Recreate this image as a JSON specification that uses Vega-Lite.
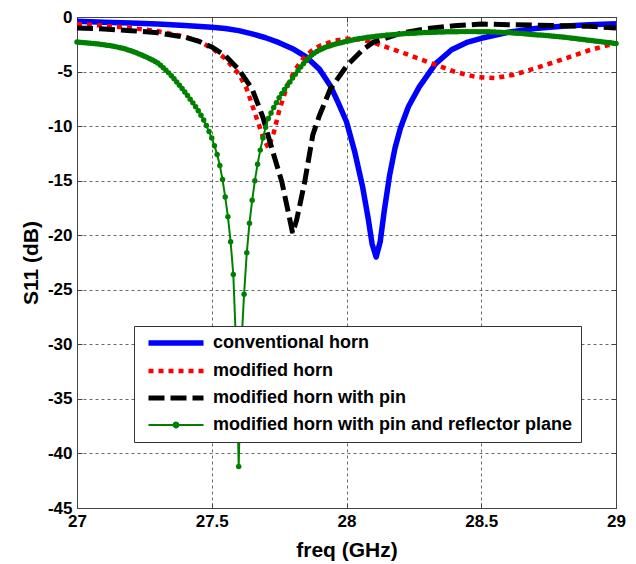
{
  "$schema": "https://vega.github.io/schema/vega-lite/v6.json",
  "width": 539,
  "height": 491,
  "autosize": {"type": "none"},
  "padding": {"left": 77, "top": 17, "right": 20, "bottom": 56},
  "background": "white",
  "config": {"view": {"stroke": "#444", "strokeWidth": 1}, "font": "Liberation Sans"},
  "datasets": {
    "conv": [
      {"series": "conventional horn", "freq": 27.0, "s11": -0.40}, {"series": "conventional horn", "freq": 27.1, "s11": -0.48}, {"series": "conventional horn", "freq": 27.2, "s11": -0.56}, {"series": "conventional horn", "freq": 27.3, "s11": -0.65},
      {"series": "conventional horn", "freq": 27.4, "s11": -0.78}, {"series": "conventional horn", "freq": 27.5, "s11": -0.95}, {"series": "conventional horn", "freq": 27.55, "s11": -1.05}, {"series": "conventional horn", "freq": 27.6, "s11": -1.25},
      {"series": "conventional horn", "freq": 27.65, "s11": -1.55}, {"series": "conventional horn", "freq": 27.7, "s11": -1.9}, {"series": "conventional horn", "freq": 27.75, "s11": -2.35}, {"series": "conventional horn", "freq": 27.8, "s11": -2.9},
      {"series": "conventional horn", "freq": 27.85, "s11": -3.65}, {"series": "conventional horn", "freq": 27.9, "s11": -4.8}, {"series": "conventional horn", "freq": 27.94, "s11": -6.3}, {"series": "conventional horn", "freq": 27.97, "s11": -7.9},
      {"series": "conventional horn", "freq": 28.0, "s11": -9.6}, {"series": "conventional horn", "freq": 28.03, "s11": -12.3}, {"series": "conventional horn", "freq": 28.06, "s11": -15.6}, {"series": "conventional horn", "freq": 28.08, "s11": -18.4},
      {"series": "conventional horn", "freq": 28.095, "s11": -20.8}, {"series": "conventional horn", "freq": 28.11, "s11": -22.0}, {"series": "conventional horn", "freq": 28.125, "s11": -20.6}, {"series": "conventional horn", "freq": 28.14, "s11": -17.8},
      {"series": "conventional horn", "freq": 28.16, "s11": -14.5}, {"series": "conventional horn", "freq": 28.18, "s11": -12.0}, {"series": "conventional horn", "freq": 28.2, "s11": -10.2}, {"series": "conventional horn", "freq": 28.23, "s11": -8.2},
      {"series": "conventional horn", "freq": 28.27, "s11": -6.4}, {"series": "conventional horn", "freq": 28.33, "s11": -4.3}, {"series": "conventional horn", "freq": 28.39, "s11": -3.0}, {"series": "conventional horn", "freq": 28.45, "s11": -2.3},
      {"series": "conventional horn", "freq": 28.5, "s11": -1.95}, {"series": "conventional horn", "freq": 28.6, "s11": -1.4}, {"series": "conventional horn", "freq": 28.7, "s11": -1.05}, {"series": "conventional horn", "freq": 28.8, "s11": -0.85},
      {"series": "conventional horn", "freq": 28.9, "s11": -0.72}, {"series": "conventional horn", "freq": 29.0, "s11": -0.62}
    ],
    "mod": [
      {"series": "modified horn", "freq": 27.0, "s11": -0.65}, {"series": "modified horn", "freq": 27.1, "s11": -0.8}, {"series": "modified horn", "freq": 27.2, "s11": -1.0}, {"series": "modified horn", "freq": 27.3, "s11": -1.3},
      {"series": "modified horn", "freq": 27.4, "s11": -1.8}, {"series": "modified horn", "freq": 27.45, "s11": -2.2}, {"series": "modified horn", "freq": 27.5, "s11": -2.85}, {"series": "modified horn", "freq": 27.55, "s11": -3.8},
      {"series": "modified horn", "freq": 27.6, "s11": -5.2}, {"series": "modified horn", "freq": 27.63, "s11": -6.6}, {"series": "modified horn", "freq": 27.66, "s11": -8.8}, {"series": "modified horn", "freq": 27.69, "s11": -11.0},
      {"series": "modified horn", "freq": 27.71, "s11": -12.0}, {"series": "modified horn", "freq": 27.73, "s11": -10.6}, {"series": "modified horn", "freq": 27.75, "s11": -8.6}, {"series": "modified horn", "freq": 27.78, "s11": -6.3},
      {"series": "modified horn", "freq": 27.81, "s11": -4.8}, {"series": "modified horn", "freq": 27.84, "s11": -3.8}, {"series": "modified horn", "freq": 27.87, "s11": -3.1}, {"series": "modified horn", "freq": 27.9, "s11": -2.65},
      {"series": "modified horn", "freq": 27.95, "s11": -2.2}, {"series": "modified horn", "freq": 28.0, "s11": -2.0}, {"series": "modified horn", "freq": 28.05, "s11": -2.05}, {"series": "modified horn", "freq": 28.1, "s11": -2.35},
      {"series": "modified horn", "freq": 28.2, "s11": -3.2}, {"series": "modified horn", "freq": 28.3, "s11": -4.1}, {"series": "modified horn", "freq": 28.4, "s11": -5.0}, {"series": "modified horn", "freq": 28.48, "s11": -5.5},
      {"series": "modified horn", "freq": 28.55, "s11": -5.6}, {"series": "modified horn", "freq": 28.62, "s11": -5.3}, {"series": "modified horn", "freq": 28.7, "s11": -4.7}, {"series": "modified horn", "freq": 28.8, "s11": -3.9},
      {"series": "modified horn", "freq": 28.9, "s11": -3.05}, {"series": "modified horn", "freq": 29.0, "s11": -2.4}
    ],
    "pin": [
      {"series": "modified horn with pin", "freq": 27.0, "s11": -1.0}, {"series": "modified horn with pin", "freq": 27.1, "s11": -1.1}, {"series": "modified horn with pin", "freq": 27.2, "s11": -1.25}, {"series": "modified horn with pin", "freq": 27.3, "s11": -1.45},
      {"series": "modified horn with pin", "freq": 27.4, "s11": -1.85}, {"series": "modified horn with pin", "freq": 27.45, "s11": -2.2}, {"series": "modified horn with pin", "freq": 27.5, "s11": -2.75}, {"series": "modified horn with pin", "freq": 27.55, "s11": -3.55},
      {"series": "modified horn with pin", "freq": 27.6, "s11": -4.8}, {"series": "modified horn with pin", "freq": 27.65, "s11": -6.6}, {"series": "modified horn with pin", "freq": 27.69, "s11": -9.2}, {"series": "modified horn with pin", "freq": 27.72, "s11": -11.8},
      {"series": "modified horn with pin", "freq": 27.76, "s11": -15.1}, {"series": "modified horn with pin", "freq": 27.79, "s11": -18.6}, {"series": "modified horn with pin", "freq": 27.8, "s11": -19.8}, {"series": "modified horn with pin", "freq": 27.815, "s11": -18.6},
      {"series": "modified horn with pin", "freq": 27.845, "s11": -15.1}, {"series": "modified horn with pin", "freq": 27.875, "s11": -10.8}, {"series": "modified horn with pin", "freq": 27.9, "s11": -9.0}, {"series": "modified horn with pin", "freq": 27.94, "s11": -6.6},
      {"series": "modified horn with pin", "freq": 28.0, "s11": -4.5}, {"series": "modified horn with pin", "freq": 28.06, "s11": -3.0}, {"series": "modified horn with pin", "freq": 28.1, "s11": -2.3}, {"series": "modified horn with pin", "freq": 28.2, "s11": -1.5},
      {"series": "modified horn with pin", "freq": 28.3, "s11": -1.05}, {"series": "modified horn with pin", "freq": 28.4, "s11": -0.8}, {"series": "modified horn with pin", "freq": 28.5, "s11": -0.65}, {"series": "modified horn with pin", "freq": 28.6, "s11": -0.7},
      {"series": "modified horn with pin", "freq": 28.7, "s11": -0.75}, {"series": "modified horn with pin", "freq": 28.8, "s11": -0.8}, {"series": "modified horn with pin", "freq": 28.9, "s11": -0.85}, {"series": "modified horn with pin", "freq": 29.0, "s11": -1.0}
    ],
    "refl": [
      {"freq": 27.00, "s11": -2.30}, {"freq": 27.01, "s11": -2.32}, {"freq": 27.02, "s11": -2.34}, {"freq": 27.03, "s11": -2.36},
      {"freq": 27.04, "s11": -2.38}, {"freq": 27.05, "s11": -2.40}, {"freq": 27.06, "s11": -2.42}, {"freq": 27.07, "s11": -2.45},
      {"freq": 27.08, "s11": -2.48}, {"freq": 27.09, "s11": -2.51}, {"freq": 27.10, "s11": -2.54}, {"freq": 27.11, "s11": -2.58},
      {"freq": 27.12, "s11": -2.62}, {"freq": 27.13, "s11": -2.66}, {"freq": 27.14, "s11": -2.71}, {"freq": 27.15, "s11": -2.76},
      {"freq": 27.16, "s11": -2.81}, {"freq": 27.17, "s11": -2.87}, {"freq": 27.18, "s11": -2.94}, {"freq": 27.19, "s11": -3.02},
      {"freq": 27.20, "s11": -3.10}, {"freq": 27.21, "s11": -3.19}, {"freq": 27.22, "s11": -3.28}, {"freq": 27.23, "s11": -3.38},
      {"freq": 27.24, "s11": -3.48}, {"freq": 27.25, "s11": -3.59}, {"freq": 27.26, "s11": -3.70}, {"freq": 27.27, "s11": -3.82},
      {"freq": 27.28, "s11": -3.95}, {"freq": 27.29, "s11": -4.08}, {"freq": 27.30, "s11": -4.22}, {"freq": 27.31, "s11": -4.42},
      {"freq": 27.32, "s11": -4.64}, {"freq": 27.33, "s11": -4.87}, {"freq": 27.34, "s11": -5.12}, {"freq": 27.35, "s11": -5.38},
      {"freq": 27.36, "s11": -5.66}, {"freq": 27.37, "s11": -5.95}, {"freq": 27.38, "s11": -6.25}, {"freq": 27.39, "s11": -6.56},
      {"freq": 27.40, "s11": -6.88}, {"freq": 27.41, "s11": -7.20}, {"freq": 27.42, "s11": -7.53}, {"freq": 27.43, "s11": -7.87},
      {"freq": 27.44, "s11": -8.22}, {"freq": 27.45, "s11": -8.60}, {"freq": 27.46, "s11": -9.00}, {"freq": 27.47, "s11": -9.45},
      {"freq": 27.48, "s11": -9.95}, {"freq": 27.49, "s11": -10.50}, {"freq": 27.50, "s11": -11.10}, {"freq": 27.51, "s11": -11.80},
      {"freq": 27.52, "s11": -12.60}, {"freq": 27.53, "s11": -13.60}, {"freq": 27.54, "s11": -14.90}, {"freq": 27.55, "s11": -16.50},
      {"freq": 27.56, "s11": -18.30}, {"freq": 27.57, "s11": -20.60}, {"freq": 27.58, "s11": -23.60}, {"freq": 27.59, "s11": -30.00},
      {"freq": 27.60, "s11": -41.20}, {"freq": 27.61, "s11": -30.00}, {"freq": 27.62, "s11": -25.40}, {"freq": 27.63, "s11": -21.60},
      {"freq": 27.64, "s11": -18.90}, {"freq": 27.65, "s11": -16.80}, {"freq": 27.66, "s11": -15.00}, {"freq": 27.67, "s11": -13.50},
      {"freq": 27.68, "s11": -12.20}, {"freq": 27.69, "s11": -11.10}, {"freq": 27.70, "s11": -10.10}, {"freq": 27.71, "s11": -9.30},
      {"freq": 27.72, "s11": -8.80}, {"freq": 27.73, "s11": -8.30}, {"freq": 27.74, "s11": -7.85}, {"freq": 27.75, "s11": -7.40},
      {"freq": 27.76, "s11": -7.00}, {"freq": 27.77, "s11": -6.65}, {"freq": 27.78, "s11": -6.30}, {"freq": 27.79, "s11": -5.95},
      {"freq": 27.80, "s11": -5.60}, {"freq": 27.81, "s11": -5.25}, {"freq": 27.82, "s11": -4.90}, {"freq": 27.83, "s11": -4.58},
      {"freq": 27.84, "s11": -4.28}, {"freq": 27.85, "s11": -4.00}, {"freq": 27.86, "s11": -3.74}, {"freq": 27.87, "s11": -3.50},
      {"freq": 27.88, "s11": -3.32}, {"freq": 27.89, "s11": -3.16}, {"freq": 27.90, "s11": -3.02}, {"freq": 27.91, "s11": -2.90},
      {"freq": 27.92, "s11": -2.80}, {"freq": 27.93, "s11": -2.71}, {"freq": 27.94, "s11": -2.63}, {"freq": 27.95, "s11": -2.55},
      {"freq": 27.96, "s11": -2.48}, {"freq": 27.97, "s11": -2.41}, {"freq": 27.98, "s11": -2.35}, {"freq": 27.99, "s11": -2.29},
      {"freq": 28.00, "s11": -2.23}, {"freq": 28.01, "s11": -2.17}, {"freq": 28.02, "s11": -2.12}, {"freq": 28.03, "s11": -2.07},
      {"freq": 28.04, "s11": -2.02}, {"freq": 28.05, "s11": -1.98}, {"freq": 28.06, "s11": -1.94}, {"freq": 28.07, "s11": -1.90},
      {"freq": 28.08, "s11": -1.86}, {"freq": 28.09, "s11": -1.83}, {"freq": 28.10, "s11": -1.80}, {"freq": 28.11, "s11": -1.77},
      {"freq": 28.12, "s11": -1.74}, {"freq": 28.13, "s11": -1.71}, {"freq": 28.14, "s11": -1.69}, {"freq": 28.15, "s11": -1.66},
      {"freq": 28.16, "s11": -1.64}, {"freq": 28.17, "s11": -1.62}, {"freq": 28.18, "s11": -1.60}, {"freq": 28.19, "s11": -1.58},
      {"freq": 28.20, "s11": -1.56}, {"freq": 28.21, "s11": -1.54}, {"freq": 28.22, "s11": -1.52}, {"freq": 28.23, "s11": -1.51},
      {"freq": 28.24, "s11": -1.49}, {"freq": 28.25, "s11": -1.48}, {"freq": 28.26, "s11": -1.46}, {"freq": 28.27, "s11": -1.45},
      {"freq": 28.28, "s11": -1.44}, {"freq": 28.29, "s11": -1.43}, {"freq": 28.30, "s11": -1.42}, {"freq": 28.31, "s11": -1.41},
      {"freq": 28.32, "s11": -1.40}, {"freq": 28.33, "s11": -1.39}, {"freq": 28.34, "s11": -1.38}, {"freq": 28.35, "s11": -1.37},
      {"freq": 28.36, "s11": -1.37}, {"freq": 28.37, "s11": -1.36}, {"freq": 28.38, "s11": -1.36}, {"freq": 28.39, "s11": -1.35},
      {"freq": 28.40, "s11": -1.35}, {"freq": 28.41, "s11": -1.35}, {"freq": 28.42, "s11": -1.34}, {"freq": 28.43, "s11": -1.34},
      {"freq": 28.44, "s11": -1.34}, {"freq": 28.45, "s11": -1.34}, {"freq": 28.46, "s11": -1.34}, {"freq": 28.47, "s11": -1.34},
      {"freq": 28.48, "s11": -1.34}, {"freq": 28.49, "s11": -1.35}, {"freq": 28.50, "s11": -1.35}, {"freq": 28.51, "s11": -1.35},
      {"freq": 28.52, "s11": -1.36}, {"freq": 28.53, "s11": -1.36}, {"freq": 28.54, "s11": -1.37}, {"freq": 28.55, "s11": -1.38},
      {"freq": 28.56, "s11": -1.39}, {"freq": 28.57, "s11": -1.40}, {"freq": 28.58, "s11": -1.41}, {"freq": 28.59, "s11": -1.42},
      {"freq": 28.60, "s11": -1.43}, {"freq": 28.61, "s11": -1.45}, {"freq": 28.62, "s11": -1.46}, {"freq": 28.63, "s11": -1.48},
      {"freq": 28.64, "s11": -1.50}, {"freq": 28.65, "s11": -1.52}, {"freq": 28.66, "s11": -1.54}, {"freq": 28.67, "s11": -1.56},
      {"freq": 28.68, "s11": -1.58}, {"freq": 28.69, "s11": -1.60}, {"freq": 28.70, "s11": -1.62}, {"freq": 28.71, "s11": -1.64},
      {"freq": 28.72, "s11": -1.66}, {"freq": 28.73, "s11": -1.68}, {"freq": 28.74, "s11": -1.70}, {"freq": 28.75, "s11": -1.72},
      {"freq": 28.76, "s11": -1.74}, {"freq": 28.77, "s11": -1.76}, {"freq": 28.78, "s11": -1.79}, {"freq": 28.79, "s11": -1.81},
      {"freq": 28.80, "s11": -1.84}, {"freq": 28.81, "s11": -1.86}, {"freq": 28.82, "s11": -1.89}, {"freq": 28.83, "s11": -1.92},
      {"freq": 28.84, "s11": -1.95}, {"freq": 28.85, "s11": -1.98}, {"freq": 28.86, "s11": -2.01}, {"freq": 28.87, "s11": -2.04},
      {"freq": 28.88, "s11": -2.07}, {"freq": 28.89, "s11": -2.10}, {"freq": 28.90, "s11": -2.13}, {"freq": 28.91, "s11": -2.16},
      {"freq": 28.92, "s11": -2.19}, {"freq": 28.93, "s11": -2.22}, {"freq": 28.94, "s11": -2.25}, {"freq": 28.95, "s11": -2.28},
      {"freq": 28.96, "s11": -2.31}, {"freq": 28.97, "s11": -2.34}, {"freq": 28.98, "s11": -2.37}, {"freq": 28.99, "s11": -2.40},
      {"freq": 29.00, "s11": -2.43}
    ],
    "legendkeys": [
      {"series": "modified horn with pin and reflector plane"}
    ]
  },
  "layer": [
    {
      "encoding": {
        "x": {"field": "freq", "type": "quantitative", "title": "freq (GHz)",
          "scale": {"domain": [27, 29], "nice": false, "zero": false},
          "axis": {"orient": "bottom", "values": [27, 27.5, 28, 28.5, 29], "format": "~g",
            "grid": true, "gridDash": [3, 3], "gridColor": "#444", "gridWidth": 0.8,
            "domainColor": "#444", "tickColor": "#444", "tickSize": -5,
            "labelFont": "Liberation Sans", "labelFontWeight": "bold", "labelFontSize": 17, "labelColor": "#000",
            "labelPadding": 10, "labelFlush": false,
            "titleFont": "Liberation Sans", "titleFontWeight": "bold", "titleFontSize": 21, "titleColor": "#000", "titlePadding": 10}},
        "y": {"field": "s11", "type": "quantitative", "title": "S11 (dB)",
          "scale": {"domain": [-45, 0], "nice": false, "zero": false},
          "axis": {"orient": "left", "values": [0, -5, -10, -15, -20, -25, -30, -35, -40, -45], "labelExpr": "'' + datum.value",
            "grid": true, "gridDash": [3, 3], "gridColor": "#444", "gridWidth": 0.8,
            "domainColor": "#444", "tickColor": "#444", "tickSize": -5,
            "labelFont": "Liberation Sans", "labelFontWeight": "bold", "labelFontSize": 17, "labelColor": "#000",
            "labelPadding": 10, "labelFlush": false,
            "titleFont": "Liberation Sans", "titleFontWeight": "bold", "titleFontSize": 21, "titleColor": "#000", "titlePadding": 6}}
      },
      "layer": [
        {"data": {"name": "conv"},
         "mark": {"type": "line", "strokeWidth": 5.5, "strokeJoin": "round"},
         "encoding": {
           "color": {"field": "series", "type": "nominal", "title": null,
             "scale": {"domain": ["conventional horn", "modified horn", "modified horn with pin", "modified horn with pin and reflector plane"], "range": ["#0000ff", "#ff0000", "#000000", "#008000"]},
             "legend": {"orient": "none", "legendX": 57, "legendY": 309, "direction": "vertical",
               "padding": 8, "fillColor": "white", "strokeColor": "#333",
               "labelFont": "Liberation Sans", "labelFontWeight": "bold", "labelFontSize": 18, "labelColor": "#000",
               "labelLimit": 600, "labelOffset": 50, "rowPadding": 8, "symbolOffset": 3,
               "symbolSize": 121, "symbolType": "M-1,0H9", "symbolStrokeWidth": 5,
               "encode": {"symbols": {"update": {
                 "shape": {"signal": "datum.value === 'modified horn with pin and reflector plane' ? 'M-1,0H9M4.45,0A0.45,0.45,0,1,1,3.55,0A0.45,0.45,0,1,1,4.45,0' : 'M-1,0H9'"},
                 "strokeWidth": {"signal": "datum.value === 'conventional horn' ? 5.5 : datum.value === 'modified horn' ? 4.5 : datum.value === 'modified horn with pin' ? 5 : 2"},
                 "strokeDash": {"signal": "datum.value === 'modified horn' ? [5, 5] : datum.value === 'modified horn with pin' ? [16, 6] : [1, 0]"},
                 "fill": {"signal": "datum.value === 'modified horn with pin and reflector plane' ? '#008000' : 'transparent'"}
               }}}}
           }
         }},
        {"data": {"name": "mod"},
         "mark": {"type": "line", "strokeWidth": 4.5, "strokeDash": [5, 5]},
         "encoding": {"color": {"field": "series", "type": "nominal", "title": null}}},
        {"data": {"name": "pin"},
         "mark": {"type": "line", "strokeWidth": 5, "strokeDash": [16, 6]},
         "encoding": {"color": {"field": "series", "type": "nominal", "title": null}}},
        {"data": {"name": "legendkeys"},
         "mark": {"type": "line", "strokeWidth": 2},
         "encoding": {"color": {"field": "series", "type": "nominal", "title": null}}},
        {"data": {"name": "refl"},
         "mark": {"type": "line", "strokeWidth": 2, "color": "#008000"},
         "encoding": {}}
      ]
    },
    {
      "data": {"name": "refl"},
      "mark": {"type": "point", "filled": true, "size": 30, "color": "#008000", "opacity": 1},
      "encoding": {
        "x": {"field": "freq", "type": "quantitative", "axis": null},
        "y": {"field": "s11", "type": "quantitative", "axis": null}
      }
    },
    {
      "data": {"name": "refl"},
      "transform": [{"filter": "datum.freq === 27"}],
      "mark": {"type": "point", "opacity": 0},
      "encoding": {
        "x": {"field": "freq", "type": "quantitative",
          "axis": {"orient": "top", "values": [27, 27.5, 28, 28.5, 29], "labels": false, "title": null, "grid": false, "domainColor": "#444", "tickColor": "#444", "tickSize": -5}},
        "y": {"field": "s11", "type": "quantitative",
          "axis": {"orient": "right", "values": [0, -5, -10, -15, -20, -25, -30, -35, -40, -45], "labels": false, "title": null, "grid": false, "domainColor": "#444", "tickColor": "#444", "tickSize": -5}}
      }
    }
  ],
  "resolve": {"axis": {"x": "independent", "y": "independent"}}
}
